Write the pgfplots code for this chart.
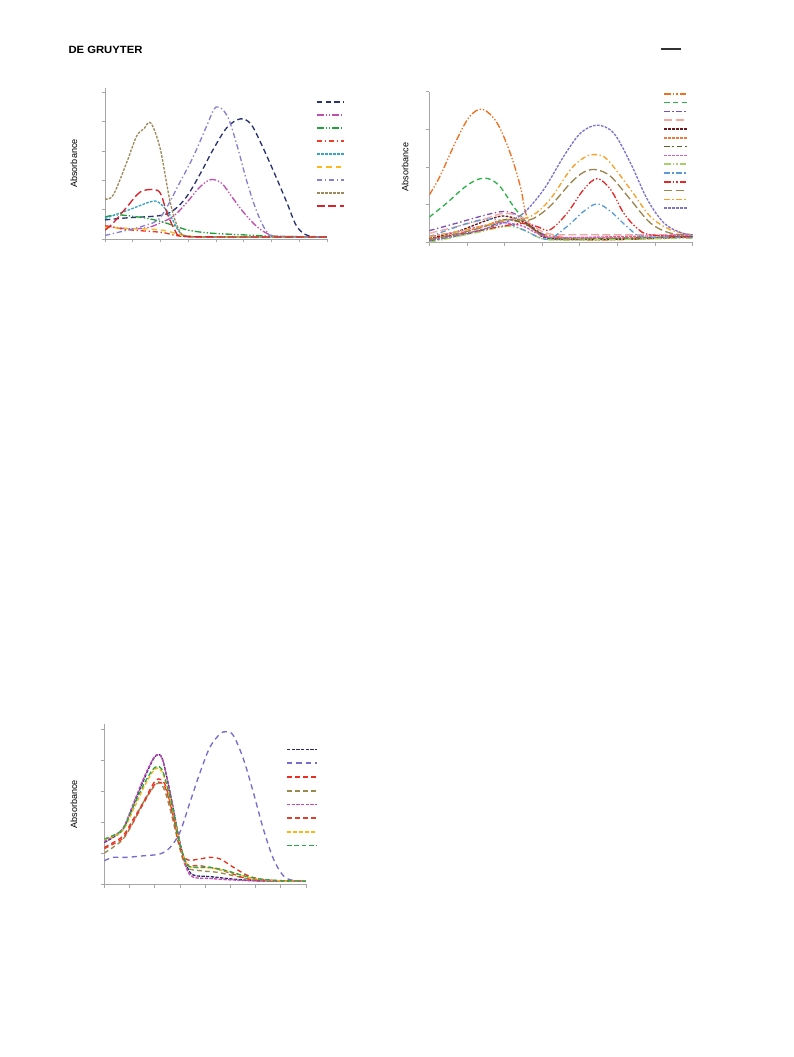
\documentclass[border=0pt]{standalone}
\usepackage{fontspec}
\setmainfont{Liberation Sans}
\usepackage{pgfplots}
\pgfplotsset{compat=1.18}

% colours, chart 1
\definecolor{aNavy}{HTML}{2B3270}
\definecolor{aMag}{HTML}{C04FB0}
\definecolor{aGreen}{HTML}{22A03A}
\definecolor{aRed}{HTML}{F03C28}
\definecolor{aTeal}{HTML}{35A6C8}
\definecolor{aYel}{HTML}{FFB81C}
\definecolor{aLav}{HTML}{8A7FCC}
\definecolor{aOli}{HTML}{9C8A5C}
\definecolor{aRed2}{HTML}{D8232A}
% chart 2
\definecolor{bOr1}{HTML}{F07020}
\definecolor{bGrn}{HTML}{2DB34A}
\definecolor{bPur}{HTML}{8050B0}
\definecolor{bPink}{HTML}{F4A6A0}
\definecolor{bMar}{HTML}{6A1A1A}
\definecolor{bOr2}{HTML}{F07A3A}
\definecolor{bDol}{HTML}{4F6A2A}
\definecolor{bMag}{HTML}{D060C8}
\definecolor{bLgr}{HTML}{A8CF6A}
\definecolor{bLbl}{HTML}{5A9BD8}
\definecolor{bRed}{HTML}{E82828}
\definecolor{bKha}{HTML}{9C8550}
\definecolor{bOr3}{HTML}{F8A028}
\definecolor{bLav}{HTML}{7F72C8}
% chart 3
\definecolor{cNavy}{HTML}{2A2A6A}
\definecolor{cLav}{HTML}{7A6ACC}
\definecolor{cRed}{HTML}{E83020}
\definecolor{cOli}{HTML}{9A8A50}
\definecolor{cMag}{HTML}{C848B8}
\definecolor{cRed2}{HTML}{E0402A}
\definecolor{cYel}{HTML}{FFB414}
\definecolor{cGrn}{HTML}{28A848}

\tikzset{
  dashA/.style={dash pattern=on 4pt off 2.5pt},
  dashS/.style={dash pattern=on 2pt off 1pt},
  dashL/.style={dash pattern=on 6pt off 2.5pt},
  dashD/.style={dash pattern=on 4pt off 2pt on 1pt off 2pt},
  dashDD/.style={dash pattern=on 5pt off 1.5pt on 1pt off 1.5pt on 1pt off 1.5pt},
}

\pgfplotsset{
  spec/.style={
    scale only axis,
    axis x line*=bottom, axis y line*=left,
    axis line style={draw=black!35, line width=0.6pt},
    tick style={draw=black!35, line width=0.5pt},
    major tick length=2.5pt, tick align=outside,
    xticklabels={}, yticklabels={},
    xmin=0, ymin=0,
    ylabel={Absorbance},
    label style={font=\fontsize{6.8}{8}\selectfont},
    every axis plot/.append style={line width=1pt, smooth, tension=0.55},
    legend style={draw=none, fill=none, inner sep=0pt, anchor=north west,
      nodes={inner sep=0pt, text height=0pt, text depth=0pt}},
  },
}

\begin{document}
\begin{tikzpicture}
\path[use as bounding box] (0pt,0pt) rectangle (594.75pt,792.75pt);

\node[anchor=base west, inner sep=0pt, xscale=1.07,
  font=\bfseries\fontsize{7.9}{9}\selectfont] at (51.2pt,752.8pt) {DE GRUYTER};
\draw[line width=1.5pt, black!80] (495.75pt,756pt) -- (510.75pt,756pt);

% ---------- chart 1 ----------
\begin{axis}[spec,
  at={(78.75pt,613.5pt)}, anchor=south west,
  width=166.5pt, height=113.25pt,
  xmax=8, ymax=5.14,
  xtick={0,...,8}, ytick={0,...,5},
  y label style={at={(axis description cs:-0.14,0.5)}, anchor=center},
  legend image code/.code={\draw[#1, line width=1.2pt] (0pt,0pt) -- (20pt,0pt);},
  legend style={at={(axis description cs:0.95,0.913)}, row sep=8.55pt},
]
\addplot[aNavy, dashA] coordinates {(0,0.65)(0.8,0.72)(2,0.8)(2.5,1.0)(2.95,1.45)(3.45,2.25)(3.9,3.05)(4.4,3.8)(4.88,4.09)(5.25,3.92)(5.6,3.3)(6.1,2.25)(6.55,1.25)(6.9,0.45)(7.3,0.12)(8,0.07)};
\addlegendentry{}
\addplot[aMag, dashDD] coordinates {(0,0.45)(0.8,0.35)(1.5,0.38)(2.0,0.55)(2.5,0.8)(3.0,1.3)(3.4,1.75)(3.8,2.02)(4.2,1.9)(4.6,1.4)(5.0,0.9)(5.5,0.4)(6.0,0.12)(6.5,0.07)(8,0.07)};
\addlegendentry{}
\addplot[aGreen, dashDD] coordinates {(0,0.75)(0.5,0.82)(1.4,0.72)(2.0,0.6)(2.5,0.45)(3.0,0.3)(3.8,0.2)(5.0,0.14)(6.2,0.09)(8,0.07)};
\addlegendentry{}
\addplot[aRed, dashD] coordinates {(0,0.45)(0.8,0.32)(2.0,0.23)(2.4,0.15)(2.9,0.08)(4,0.07)(8,0.07)};
\addlegendentry{}
\addplot[aTeal, dashS] coordinates {(0,0.7)(0.8,0.97)(1.7,1.28)(2.0,1.2)(2.35,0.8)(2.65,0.28)(2.95,0.1)(4,0.07)(8,0.07)};
\addlegendentry{}
\addplot[aYel, dash pattern=on 4pt off 3pt] coordinates {(0,0.4)(0.8,0.36)(1.75,0.33)(2.25,0.27)(2.85,0.12)(4,0.07)(8,0.07)};
\addlegendentry{}
\addplot[aLav, dashD] coordinates {(0,0.12)(0.8,0.3)(1.4,0.45)(2.0,0.74)(2.7,1.93)(3.2,2.84)(3.67,3.86)(4.0,4.49)(4.4,4.2)(4.76,3.18)(5.12,1.93)(5.48,0.91)(5.84,0.23)(6.2,0.1)(8,0.07)};
\addlegendentry{}
\addplot[aOli, dashS] coordinates {(0,1.36)(0.3,1.5)(0.78,2.6)(1.14,3.5)(1.4,3.75)(1.65,3.95)(1.99,3.07)(2.35,1.25)(2.65,0.34)(2.95,0.1)(4,0.07)(8,0.07)};
\addlegendentry{}
\addplot[aRed2, dashL] coordinates {(0,0.3)(0.3,0.55)(0.78,1.08)(1.27,1.6)(1.75,1.68)(2.0,1.55)(2.23,0.9)(2.53,0.28)(2.77,0.1)(4,0.07)(8,0.07)};
\addlegendentry{}
\end{axis}

% ---------- chart 2 ----------
\begin{axis}[spec,
  at={(322pt,611pt)}, anchor=south west,
  width=197.5pt, height=113pt,
  xmax=7, ymax=4,
  xtick={0,...,7}, ytick={0,...,4},
  y label style={at={(axis description cs:-0.092,0.5)}, anchor=center},
  legend image code/.code={\draw[#1, line width=1.2pt] (0pt,0pt) -- (17pt,0pt);},
  legend style={at={(axis description cs:0.888,0.993)}, row sep=5.4pt},
]
\addplot[bOr1, dashDD] coordinates {(0,1.26)(0.28,1.75)(0.73,2.73)(1.08,3.35)(1.42,3.53)(1.8,3.17)(2.15,2.37)(2.42,1.48)(2.55,0.82)(2.7,0.45)(2.95,0.24)(3.4,0.15)(4.3,0.06)(6,0.1)(7,0.15)};
\addlegendentry{}
\addplot[bGrn, dashA] coordinates {(0,0.67)(0.46,1.04)(0.91,1.44)(1.26,1.66)(1.57,1.69)(1.88,1.48)(2.24,0.95)(2.6,0.51)(2.95,0.22)(3.4,0.1)(5,0.1)(7,0.15)};
\addlegendentry{}
\addplot[bPur, dashD] coordinates {(0,0.31)(0.73,0.51)(1.44,0.71)(1.97,0.82)(2.33,0.73)(2.68,0.46)(3.04,0.2)(3.4,0.08)(5,0.1)(7,0.17)};
\addlegendentry{}
\addplot[bPink, dashL] coordinates {(0,0.24)(0.73,0.42)(1.44,0.61)(1.97,0.77)(2.42,0.68)(2.77,0.42)(3.2,0.22)(4,0.2)(7,0.2)};
\addlegendentry{}
\addplot[bMar, dashS] coordinates {(0,0.1)(0.73,0.28)(1.44,0.55)(1.97,0.7)(2.5,0.55)(2.86,0.28)(3.22,0.1)(5,0.08)(7,0.15)};
\addlegendentry{}
\addplot[bOr2, dashS] coordinates {(0,0.08)(0.73,0.22)(1.44,0.42)(1.97,0.6)(2.51,0.5)(2.86,0.28)(3.22,0.13)(5,0.12)(7,0.15)};
\addlegendentry{}
\addplot[bDol, dash pattern=on 4pt off 2pt on 1.5pt off 2pt] coordinates {(0,0.04)(0.73,0.17)(1.44,0.33)(2.06,0.61)(2.6,0.46)(2.95,0.24)(3.31,0.08)(5,0.1)(7,0.15)};
\addlegendentry{}
\addplot[bMag, dashS] coordinates {(0,0.15)(0.73,0.28)(1.44,0.44)(1.97,0.52)(2.51,0.42)(2.86,0.24)(3.31,0.13)(5,0.15)(7,0.2)};
\addlegendentry{}
\addplot[bLgr, dashDD] coordinates {(0,0)(1.17,0.24)(2.06,0.42)(2.51,0.33)(2.86,0.15)(3.3,0.06)(5,0.08)(7,0.11)};
\addlegendentry{}
\addplot[bLbl, dashD] coordinates {(0,0.15)(1.17,0.55)(1.8,0.6)(2.5,0.33)(3.13,0.08)(3.66,0.42)(4.1,0.82)(4.46,1.02)(4.82,0.82)(5.35,0.33)(5.7,0.15)(7,0.13)};
\addlegendentry{}
\addplot[bRed, dashDD] coordinates {(0,0.08)(1.17,0.28)(1.88,0.42)(2.5,0.5)(2.86,0.42)(3.2,0.33)(3.66,0.77)(4.1,1.4)(4.46,1.69)(4.82,1.4)(5.17,0.77)(5.53,0.37)(5.88,0.2)(7,0.15)};
\addlegendentry{}
\addplot[bKha, dashL] coordinates {(0,0.08)(1.17,0.33)(2.06,0.6)(2.68,0.6)(3.2,0.95)(3.75,1.57)(4.1,1.86)(4.42,1.93)(4.82,1.75)(5.35,1.13)(5.88,0.51)(6.42,0.24)(7,0.2)};
\addlegendentry{}
\addplot[bOr3, dashD] coordinates {(0,0.15)(1.17,0.37)(2.06,0.6)(2.68,0.68)(3.2,1.13)(3.75,1.93)(4.1,2.24)(4.37,2.33)(4.73,2.2)(5.35,1.4)(5.88,0.68)(6.42,0.33)(7,0.2)};
\addlegendentry{}
\addplot[bLav, dashS] coordinates {(0,0.04)(1.17,0.28)(2.06,0.55)(2.5,0.77)(3.04,1.4)(3.57,2.28)(4.02,2.9)(4.46,3.11)(4.9,2.9)(5.35,2.1)(5.8,1.13)(6.24,0.51)(6.68,0.26)(7,0.2)};
\addlegendentry{}
\end{axis}

% ---------- chart 3 ----------
\begin{axis}[spec,
  at={(78.2pt,129.5pt)}, anchor=south west,
  width=151.3pt, height=120pt,
  xmax=8, ymax=5.16,
  xtick={0,...,8}, ytick={0,...,5},
  y label style={at={(axis description cs:-0.15,0.5)}, anchor=center},
  legend image code/.code={\draw[#1, line width=1.3pt] (0pt,0pt) -- (22.5pt,0pt);},
  legend style={at={(axis description cs:0.901,0.85)}, row sep=9pt},
]
\addplot[cNavy, dash pattern=on 2.5pt off 1pt] coordinates {(0,1.35)(0.36,1.52)(0.75,1.78)(1.15,2.54)(1.55,3.34)(1.88,3.94)(2.08,4.17)(2.28,4.1)(2.47,3.5)(2.74,2.43)(3.0,1.35)(3.27,0.6)(3.53,0.3)(4.19,0.25)(4.85,0.19)(5.52,0.14)(6.18,0.11)(8,0.1)};
\addlegendentry{}
\addplot[cLav, dash pattern=on 4pt off 3pt] coordinates {(0,0.76)(0.36,0.87)(0.89,0.87)(1.55,0.92)(2.21,0.98)(2.61,1.19)(3.0,1.68)(3.4,2.65)(3.8,3.61)(4.19,4.42)(4.59,4.85)(4.85,4.92)(5.12,4.8)(5.52,4.04)(5.91,2.97)(6.31,1.78)(6.71,0.82)(7.1,0.28)(7.5,0.12)(8,0.1)};
\addlegendentry{}
\addplot[cRed, dash pattern=on 3.5pt off 2.5pt] coordinates {(0,1.19)(0.36,1.35)(0.75,1.57)(1.15,2.1)(1.55,2.65)(1.94,3.24)(2.14,3.4)(2.4,3.24)(2.67,2.43)(3.0,1.25)(3.27,0.8)(3.8,0.82)(4.19,0.87)(4.59,0.82)(5.12,0.55)(5.65,0.3)(6.18,0.17)(7,0.11)(8,0.1)};
\addlegendentry{}
\addplot[cOli, dash pattern=on 3.5pt off 2.5pt] coordinates {(0,1.01)(0.36,1.2)(0.75,1.46)(1.15,2.0)(1.55,2.65)(2.08,3.24)(2.34,3.13)(2.61,2.43)(3.0,1.14)(3.27,0.55)(3.8,0.44)(4.46,0.39)(5.12,0.28)(5.91,0.15)(7,0.1)(8,0.1)};
\addlegendentry{}
\addplot[cMag, dash pattern=on 2.5pt off 1pt] coordinates {(0,1.38)(0.36,1.55)(0.75,1.82)(1.15,2.6)(1.55,3.4)(1.88,3.97)(2.08,4.18)(2.28,4.08)(2.47,3.5)(2.74,2.43)(3.0,1.3)(3.27,0.5)(3.53,0.23)(4.19,0.19)(4.85,0.15)(6.18,0.11)(8,0.1)};
\addlegendentry{}
\addplot[cRed2, dash pattern=on 3.5pt off 2.5pt] coordinates {(0,1.15)(0.36,1.3)(0.75,1.5)(1.15,2.02)(1.55,2.6)(1.94,3.15)(2.14,3.3)(2.4,3.15)(2.67,2.4)(3.0,1.2)(3.27,0.65)(3.8,0.6)(4.46,0.5)(5.12,0.33)(5.91,0.15)(8,0.1)};
\addlegendentry{}
\addplot[cYel, dash pattern=on 3pt off 1.5pt] coordinates {(0,1.44)(0.36,1.55)(0.75,1.75)(1.15,2.4)(1.55,3.1)(1.88,3.58)(2.08,3.75)(2.28,3.65)(2.47,3.2)(2.74,2.3)(3.0,1.3)(3.27,0.66)(3.53,0.55)(4.19,0.53)(4.59,0.47)(5.12,0.37)(5.91,0.19)(7,0.11)(8,0.1)};
\addlegendentry{}
\addplot[cGrn, dash pattern=on 3.5pt off 2pt] coordinates {(0,1.46)(0.36,1.58)(0.75,1.8)(1.15,2.5)(1.55,3.2)(1.88,3.65)(2.08,3.8)(2.28,3.72)(2.47,3.25)(2.74,2.35)(3.0,1.3)(3.27,0.66)(3.53,0.55)(4.19,0.55)(4.85,0.44)(5.52,0.28)(6.18,0.17)(7,0.12)(8,0.1)};
\addlegendentry{}
\end{axis}
\end{tikzpicture}
\end{document}
